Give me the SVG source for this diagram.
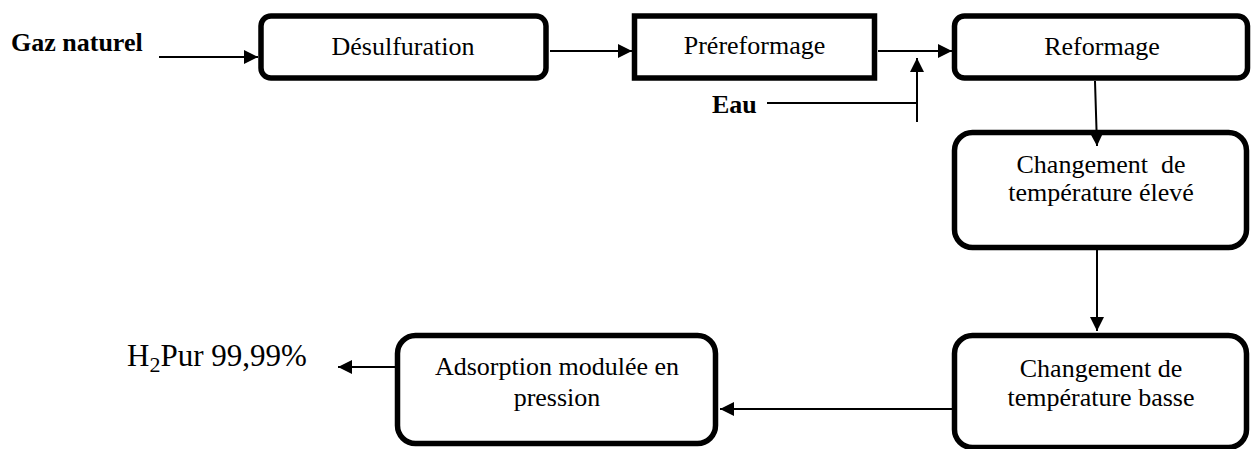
<svg xmlns="http://www.w3.org/2000/svg" width="1253" height="449" viewBox="0 0 1253 449">
<defs>
<marker id="ah" markerUnits="userSpaceOnUse" markerWidth="14" markerHeight="14" viewBox="0 0 14 14" refX="14" refY="7" orient="auto">
<path d="M0,0 L14,7 L0,14 z" fill="#000"/>
</marker>
</defs>
<style>
.box{fill:#fff;stroke:#000;stroke-width:5.5}
.t{font-family:"Liberation Serif","Times New Roman",serif;font-size:26px;fill:#000}
.c{text-anchor:middle}
.b{font-weight:bold}
.ln{stroke:#000;stroke-width:2;fill:none}
.arr{marker-end:url(#ah)}
</style>
<rect width="1253" height="449" fill="#fff"/>
<g id="gaz-naturel">
<text class="t b" x="11" y="51">Gaz naturel</text>
</g>
<g id="eau">
<text class="t b" x="712" y="113">Eau</text>
</g>
<g id="desulfuration">
<rect class="box" x="261" y="16" width="285" height="62" rx="10"/>
<text class="t c" x="403" y="55">Désulfuration</text>
</g>
<g id="prereformage">
<rect class="box" x="634.5" y="16" width="240" height="62"/>
<text class="t c" x="754.5" y="54">Préreformage</text>
</g>
<g id="reformage">
<rect class="box" x="954.5" y="16" width="293" height="62" rx="10"/>
<text class="t c" x="1102" y="55">Reformage</text>
</g>
<g id="changement-eleve">
<rect class="box" x="954.5" y="132.5" width="292" height="115" rx="18"/>
<text class="t c" x="1101" y="173" xml:space="preserve" style="white-space:pre">Changement  de</text>
<text class="t c" x="1101" y="201">température élevé</text>
</g>
<g id="changement-basse">
<rect class="box" x="954.5" y="335.5" width="292" height="112" rx="18"/>
<text class="t c" x="1101" y="377">Changement de</text>
<text class="t c" x="1101" y="406">température basse</text>
</g>
<g id="adsorption">
<rect class="box" x="397.5" y="335.5" width="318" height="108" rx="18"/>
<text class="t c" x="557" y="375">Adsorption modulée en</text>
<text class="t c" x="557" y="406">pression</text>
</g>
<g id="h2-pur">
<text class="t" x="127" y="366" style="font-size:31px">H<tspan dy="6" style="font-size:22px">2</tspan><tspan dy="-6">Pur 99,99%</tspan></text>
</g>
<g id="connectors">
<line class="ln arr" x1="159" y1="57" x2="258" y2="57"/>
<line class="ln arr" x1="550" y1="51" x2="632" y2="51"/>
<line class="ln arr" x1="878" y1="51" x2="952" y2="51"/>
<line class="ln" x1="767" y1="103" x2="917" y2="103"/>
<line class="ln arr" x1="917" y1="122" x2="917" y2="58"/>
<line class="ln arr" x1="1095" y1="81" x2="1097" y2="146"/>
<line class="ln arr" x1="1097" y1="250" x2="1097" y2="331"/>
<line class="ln arr" x1="952" y1="409" x2="720" y2="409"/>
<line class="ln arr" x1="395" y1="367" x2="338" y2="367"/>
</g>
</svg>
